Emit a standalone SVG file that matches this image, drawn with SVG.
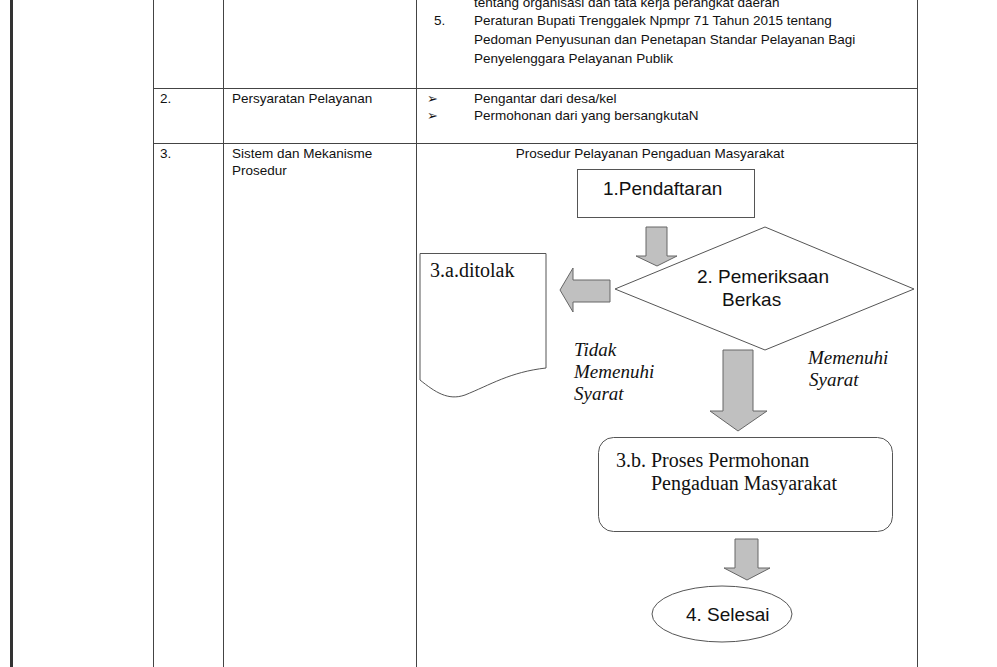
<svg xmlns="http://www.w3.org/2000/svg" width="997" height="667" viewBox="0 0 997 667">
<style>
.t{font-family:"Liberation Sans",Arial,sans-serif;font-size:13.5px;fill:#111}
.b{font-family:"DejaVu Sans",sans-serif;font-size:13px;fill:#111}
.c{font-family:"Liberation Sans",Arial,sans-serif;font-size:19px;fill:#111}
.s{font-family:"Liberation Serif","Times New Roman",serif;font-size:20px;fill:#111}
.i{font-family:"Liberation Serif","Times New Roman",serif;font-size:19px;font-style:italic;fill:#111}
.grid{stroke:#444;stroke-width:1;fill:none}
.shape{fill:#fff;stroke:#555;stroke-width:1}
.arrow{fill:#c0c0c0;stroke:#666;stroke-width:1}
</style>
<rect width="997" height="667" fill="#fff"/>
<rect x="10" y="0" width="3" height="667" fill="#333"/>
<g id="table" class="grid">
<line x1="153.5" y1="0" x2="153.5" y2="667"/>
<line x1="223.5" y1="0" x2="223.5" y2="667"/>
<line x1="416.5" y1="0" x2="416.5" y2="667"/>
<line x1="917.5" y1="0" x2="917.5" y2="667"/>
<line x1="153" y1="88.5" x2="918" y2="88.5"/>
<line x1="153" y1="143.5" x2="918" y2="143.5"/>
</g>
<g id="row1">
<text class="t" x="474" y="7">tentang organisasi dan tata kerja perangkat daerah</text>
<text class="t" x="434" y="25">5.</text>
<text class="t" x="474" y="25">Peraturan Bupati Trenggalek Npmpr 71 Tahun 2015 tentang</text>
<text class="t" x="474" y="44">Pedoman Penyusunan dan Penetapan Standar Pelayanan Bagi</text>
<text class="t" x="474" y="63">Penyelenggara Pelayanan Publik</text>
</g>
<g id="row2">
<text class="t" x="160" y="103">2.</text>
<text class="t" x="232" y="103">Persyaratan Pelayanan</text>
<text class="b" x="427" y="103">➢</text>
<text class="t" x="474" y="103">Pengantar dari desa/kel</text>
<text class="b" x="427" y="120">➢</text>
<text class="t" x="474" y="120">Permohonan dari yang bersangkutaN</text>
</g>
<g id="row3">
<text class="t" x="160" y="158">3.</text>
<text class="t" x="232" y="158">Sistem dan Mekanisme</text>
<text class="t" x="232" y="175">Prosedur</text>
<text class="t" x="650" y="158" text-anchor="middle">Prosedur Pelayanan Pengaduan Masyarakat</text>
</g>
<g id="connectors">
<path class="arrow" d="M646,227 H667 V256 H677 L657,266 L636,256 H646 Z"/>
<path class="arrow" d="M610,280 V302 H573 V312 L560,290 L573,268 V280 Z"/>
<path class="arrow" d="M723,350 H753 V411 H767 L738,431 L710,411 H723 Z"/>
<path class="arrow" d="M735,539 H758 V568 H770 L747,580 L724,568 H735 Z"/>
</g>
<g id="n1">
<rect class="shape" x="577.5" y="169.5" width="177" height="48"/>
<text class="c" x="603" y="195">1.Pendaftaran</text>
</g>
<g id="n2">
<polygon class="shape" points="615,289 765,227 914,289 765,350"/>
<text class="c" x="697" y="283">2. Pemeriksaan</text>
<text class="c" x="722" y="306">Berkas</text>
</g>
<g id="n3a">
<path class="shape" d="M420,253.5 H546 V368 C510,372 490,385 465,395 C448,401 435,392 420,380 Z"/>
<text class="s" x="430" y="277">3.a.ditolak</text>
</g>
<g id="label-no">
<text class="i" x="574" y="356">Tidak</text>
<text class="i" x="574" y="378">Memenuhi</text>
<text class="i" x="574" y="400">Syarat</text>
</g>
<g id="label-yes">
<text class="i" x="808" y="364">Memenuhi</text>
<text class="i" x="809" y="386">Syarat</text>
</g>
<g id="n3b">
<rect class="shape" x="598.5" y="437.5" width="294" height="94" rx="15"/>
<text class="s" x="616" y="467">3.b. Proses Permohonan</text>
<text class="s" x="651" y="490">Pengaduan Masyarakat</text>
</g>
<g id="n4">
<ellipse class="shape" cx="722" cy="614" rx="70" ry="28"/>
<text class="c" x="686" y="621">4. Selesai</text>
</g>
</svg>
